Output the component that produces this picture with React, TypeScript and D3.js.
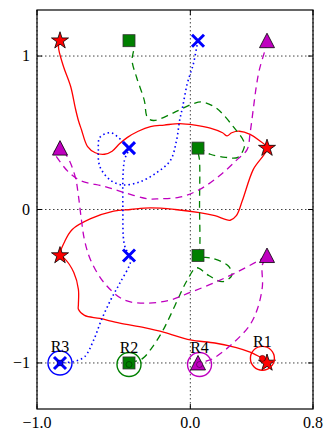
import React from "react";
import * as d3 from "d3";

type Pt = [number, number];

// axis ticks
const xTicks = [-1.0, 0.0, 0.8];
const yTicks = [-1, 0, 1];

// goal markers, one array per robot
const starGoals: Pt[] = [[-0.85, 1.1], [0.5, 0.4], [-0.85, -0.3], [0.5, -1.0]];
const squareGoals: Pt[] = [[-0.4, 1.1], [0.05, 0.4], [0.05, -0.3], [-0.4, -1.0]];
const crossGoals: Pt[] = [[0.05, 1.1], [-0.4, 0.4], [-0.4, -0.3], [-0.85, -1.0]];
const triangleGoals: Pt[] = [[0.5, 1.1], [-0.85, 0.4], [0.5, -0.3], [0.05, -1.0]];

// trajectories (last point = robot's final position)
const redPath: Pt[] = [
  [-0.85, 1.1], [-0.86, 1.06], [-0.83, 0.94], [-0.78, 0.8], [-0.75, 0.66], [-0.73, 0.58],
  [-0.71, 0.52], [-0.67, 0.41], [-0.62, 0.37], [-0.56, 0.36], [-0.51, 0.38], [-0.46, 0.43],
  [-0.41, 0.47], [-0.34, 0.51], [-0.26, 0.54], [-0.17, 0.55], [-0.07, 0.56], [0.03, 0.55],
  [0.13, 0.53], [0.21, 0.5], [0.24, 0.48], [0.27, 0.5], [0.32, 0.51], [0.39, 0.49],
  [0.45, 0.45], [0.5, 0.4], [0.41, 0.26], [0.34, 0.06], [0.3, -0.04], [0.26, -0.07],
  [0.16, -0.04], [0.06, -0.02], [-0.1, 0.0], [-0.26, 0.01], [-0.39, 0.0], [-0.5, -0.01],
  [-0.65, -0.06], [-0.77, -0.13], [-0.82, -0.21], [-0.85, -0.3], [-0.82, -0.32],
  [-0.76, -0.41], [-0.73, -0.52], [-0.73, -0.62], [-0.73, -0.65], [-0.69, -0.69],
  [-0.59, -0.71], [-0.46, -0.74], [-0.3, -0.77], [-0.17, -0.8], [0.0, -0.85], [0.16, -0.87],
  [0.3, -0.9], [0.39, -0.93], [0.47, -0.97],
];
const greenPath: Pt[] = [
  [-0.4, 1.1], [-0.37, 1.06], [-0.38, 0.97], [-0.35, 0.86], [-0.3, 0.71], [-0.28, 0.6],
  [-0.24, 0.58], [-0.11, 0.63], [0.02, 0.69], [0.08, 0.7], [0.17, 0.66], [0.28, 0.54],
  [0.35, 0.44], [0.35, 0.4], [0.31, 0.34], [0.23, 0.34], [0.13, 0.36], [0.05, 0.4],
  [0.06, 0.32], [0.06, 0.02], [0.06, -0.26], [0.05, -0.3], [0.15, -0.32], [0.25, -0.37],
  [0.27, -0.43], [0.21, -0.47], [0.12, -0.43], [0.04, -0.38], [-0.02, -0.46], [-0.07, -0.56],
  [-0.13, -0.69], [-0.18, -0.79], [-0.25, -0.9], [-0.31, -0.97], [-0.36, -0.99], [-0.4, -1.01],
];
const bluePath: Pt[] = [
  [0.05, 1.1], [0.04, 1.05], [0.02, 0.95], [-0.02, 0.82], [-0.05, 0.67], [-0.07, 0.58],
  [-0.09, 0.45], [-0.13, 0.32], [-0.22, 0.24], [-0.33, 0.18], [-0.44, 0.16], [-0.52, 0.19],
  [-0.59, 0.28], [-0.6, 0.39], [-0.59, 0.47], [-0.52, 0.5], [-0.47, 0.47], [-0.43, 0.43],
  [-0.4, 0.4], [-0.43, 0.32], [-0.44, 0.0], [-0.43, -0.23], [-0.4, -0.3], [-0.39, -0.34],
  [-0.46, -0.48], [-0.52, -0.59], [-0.58, -0.72], [-0.63, -0.85], [-0.69, -0.96],
  [-0.76, -0.99], [-0.85, -1.0],
];
const magentaPath: Pt[] = [
  [0.5, 1.1], [0.49, 1.05], [0.45, 0.91], [0.43, 0.8], [0.41, 0.65], [0.39, 0.5], [0.37, 0.39],
  [0.3, 0.32], [0.19, 0.22], [0.06, 0.13], [-0.07, 0.08], [-0.2, 0.07], [-0.28, 0.07],
  [-0.43, 0.11], [-0.56, 0.15], [-0.72, 0.19], [-0.8, 0.25], [-0.87, 0.34], [-0.89, 0.37],
  [-0.85, 0.4], [-0.8, 0.34], [-0.75, 0.21], [-0.73, 0.09], [-0.71, -0.07], [-0.69, -0.2],
  [-0.65, -0.33], [-0.56, -0.48], [-0.43, -0.59], [-0.28, -0.61], [-0.13, -0.59], [0.0, -0.54],
  [0.15, -0.48], [0.3, -0.41], [0.45, -0.33], [0.5, -0.3], [0.47, -0.36], [0.47, -0.5],
  [0.44, -0.64], [0.39, -0.75], [0.28, -0.87], [0.15, -0.97], [0.1, -0.99], [0.06, -1.01],
];

const robotNames = ["R1", "R2", "R3", "R4"];

const width = 334;
const height = 441;
const left = 37;
const right = 313;
const top = 10;
const bottom = 409;
const font = "'Liberation Serif', 'DejaVu Serif', serif";

const red = "#ff0000";
const green = "#008000";
const blue = "#0000ff";
const magenta = "#bf00bf";

export default function App() {
  const x = d3.scaleLinear().domain([-1.0, 0.8]).range([left, right]);
  const y = d3.scaleLinear().domain([-1.3, 1.3]).range([bottom, top]);
  const line = d3
    .line<Pt>()
    .x((d) => x(d[0]))
    .y((d) => y(d[1]))
    .curve(d3.curveCatmullRom.alpha(0.5));
  const fx = d3.format(".1f");
  const fy = d3.format("d");
  const star = d3.symbol(d3.symbolStar, 90)()!;

  const paths = [
    { d: redPath, color: red, dash: undefined, w: 1.3 },
    { d: greenPath, color: green, dash: "7,5", w: 1.3 },
    { d: bluePath, color: blue, dash: "1.5,3", w: 1.6 },
    { d: magentaPath, color: magenta, dash: "7,5", w: 1.3 },
  ];
  const robots = [redPath, greenPath, bluePath, magentaPath].map((p, i) => ({
    name: robotNames[i],
    pos: p[p.length - 1],
    color: [red, green, blue, magenta][i],
  }));

  return (
    <svg width={width} height={height} style={{ position: "absolute", left: 0, top: 0 }}>
      <rect width={width} height={height} fill="#fff" />
      {/* grid */}
      <g stroke="#444" strokeWidth={1} strokeDasharray="1.5,2.5">
        {xTicks.map((t) => (
          <line key={"gx" + t} x1={x(t)} x2={x(t)} y1={top} y2={bottom} />
        ))}
        {yTicks.map((t) => (
          <line key={"gy" + t} x1={left} x2={right} y1={y(t)} y2={y(t)} />
        ))}
      </g>
      {/* trajectories */}
      {paths.map((p, i) => (
        <path
          key={i}
          d={line(p.d)!}
          fill="none"
          stroke={p.color}
          strokeWidth={p.w}
          strokeDasharray={p.dash}
        />
      ))}
      {/* goals */}
      {starGoals.map((g, i) => (
        <path key={"s" + i} d={star} transform={`translate(${x(g[0])},${y(g[1])})`} fill={red} stroke="#000" strokeWidth={0.8} />
      ))}
      {squareGoals.map((g, i) => (
        <rect key={"q" + i} x={x(g[0]) - 6} y={y(g[1]) - 6} width={12} height={12} fill={green} stroke="#333" strokeWidth={0.8} />
      ))}
      {crossGoals.map((g, i) => (
        <path
          key={"c" + i}
          d={`M${x(g[0]) - 6},${y(g[1]) - 6}L${x(g[0]) + 6},${y(g[1]) + 6}M${x(g[0]) - 6},${y(g[1]) + 6}L${x(g[0]) + 6},${y(g[1]) - 6}`}
          stroke={blue}
          strokeWidth={3}
        />
      ))}
      {triangleGoals.map((g, i) => (
        <path
          key={"t" + i}
          d={`M${x(g[0])},${y(g[1]) - 7.5}L${x(g[0]) - 7.5},${y(g[1]) + 7}L${x(g[0]) + 7.5},${y(g[1]) + 7}Z`}
          fill={magenta}
          stroke="#000"
          strokeWidth={0.8}
        />
      ))}
      {/* robots */}
      {robots.map((r) => (
        <g key={r.name}>
          <circle cx={x(r.pos[0])} cy={y(r.pos[1])} r={3} fill={r.color} stroke="#000" strokeWidth={0.4} />
          <circle cx={x(r.pos[0])} cy={y(r.pos[1])} r={12} fill="none" stroke={r.color} strokeWidth={1.4} />
          <text x={x(r.pos[0])} y={y(r.pos[1]) - 11} textAnchor="middle" fontFamily={font} fontSize={16}>
            {r.name}
          </text>
        </g>
      ))}
      {/* frame and ticks */}
      <rect x={left} y={top} width={right - left} height={bottom - top} fill="none" stroke="#000" strokeWidth={1.2} />
      <g stroke="#000" strokeWidth={1}>
        {xTicks.map((t) => (
          <g key={"tx" + t}>
            <line x1={x(t)} x2={x(t)} y1={bottom} y2={bottom - 5} />
            <line x1={x(t)} x2={x(t)} y1={top} y2={top + 5} />
          </g>
        ))}
        {yTicks.map((t) => (
          <g key={"ty" + t}>
            <line x1={left} x2={left + 5} y1={y(t)} y2={y(t)} />
            <line x1={right} x2={right - 5} y1={y(t)} y2={y(t)} />
          </g>
        ))}
      </g>
      <g fontFamily={font} fontSize={16} fill="#000">
        {xTicks.map((t) => (
          <text key={"lx" + t} x={x(t)} y={bottom + 19} textAnchor="middle">
            {fx(t)}
          </text>
        ))}
        {yTicks.map((t) => (
          <text key={"ly" + t} x={left - 7} y={y(t) + 5} textAnchor="end">
            {fy(t)}
          </text>
        ))}
      </g>
    </svg>
  );
}
